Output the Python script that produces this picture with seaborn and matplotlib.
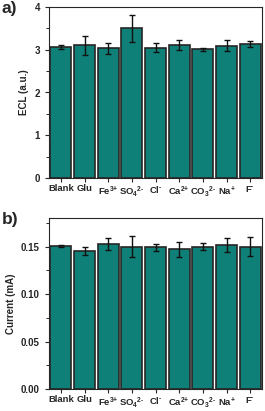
import numpy as np
import pandas as pd
import matplotlib
matplotlib.use("Agg")
import matplotlib.pyplot as plt
import seaborn as sns
from matplotlib.ticker import AutoMinorLocator

# ions tested for interference
labels = ["Blank", "Glu", r"Fe$^{\text{3+}}$", r"SO$_4$$^{\text{2-}}$", r"Cl$^{\text{-}}$",
          r"Ca$^{\text{2+}}$", r"CO$_3$$^{\text{2-}}$", r"Na$^{\text{+}}$", r"F$^{\text{-}}$"]

ecl = [3.06, 3.10, 3.03, 3.50, 3.05, 3.11, 3.01, 3.09, 3.13]
ecl_err = [0.04, 0.23, 0.13, 0.31, 0.10, 0.12, 0.04, 0.13, 0.07]

current = [0.151, 0.1455, 0.1524, 0.150, 0.149, 0.1472, 0.150, 0.1514, 0.150]
current_err = [0.001, 0.004, 0.0065, 0.0115, 0.004, 0.008, 0.004, 0.0077, 0.0098]

sns.set_style("ticks")
plt.rcParams["font.family"] = ["Liberation Sans", "DejaVu Sans"]
plt.rcParams["font.weight"] = "bold"
plt.rcParams["mathtext.fontset"] = "custom"
plt.rcParams["mathtext.rm"] = "Liberation Sans:bold"
plt.rcParams["mathtext.bf"] = "Liberation Sans:bold"
plt.rcParams["mathtext.default"] = "bf"

teal = "#0f8078"

fig = plt.figure(figsize=(2.65, 4.11), dpi=100)
ax1 = fig.add_axes([49 / 265, 1 - 178 / 411, 213 / 265, 171 / 411])
ax2 = fig.add_axes([49 / 265, 1 - 389 / 411, 213 / 265, 171 / 411])

df1 = pd.DataFrame({"ion": labels, "val": ecl})
df2 = pd.DataFrame({"ion": labels, "val": current})

for ax, df, err, ylab, tag in [(ax1, df1, ecl_err, "ECL (a.u.)", "a)"),
                               (ax2, df2, current_err, "Current (mA)", "b)")]:
    sns.barplot(data=df, x="ion", y="val", color=teal, width=0.9,
                edgecolor="#262626", linewidth=1.2, saturation=1, ax=ax)
    ax.errorbar(np.arange(len(labels)), df["val"], yerr=err, fmt="none",
                ecolor="#111111", elinewidth=1.0, capsize=2.5, capthick=1.0)
    ax.set_xlabel("")
    ax.set_ylabel(ylab, fontsize=7, fontweight="bold")
    ax.yaxis.set_minor_locator(AutoMinorLocator(2))
    ax.tick_params(axis="both", labelsize=7, length=3, width=0.8, direction="out")
    ax.tick_params(axis="y", which="minor", length=2, width=0.7)
    ax.tick_params(axis="x", pad=1.5, labelsize=6.8)
    for s in ax.spines.values():
        s.set_visible(True)
        s.set_linewidth(0.8)
    ax.set_xlim(-0.5, len(labels) - 0.5)
    fig.text(0.005, ax.get_position().y1 + 0.014, tag, fontsize=12.5,
             fontweight="bold", va="top", ha="left")

ax1.set_ylim(0, 4)
ax1.set_yticks([0, 1, 2, 3, 4])
ax2.set_ylim(0, 0.18)
ax2.set_yticks([0, 0.05, 0.10, 0.15])
ax2.set_yticklabels(["0.00", "0.05", "0.10", "0.15"])

fig.savefig("out.png", dpi=100)
